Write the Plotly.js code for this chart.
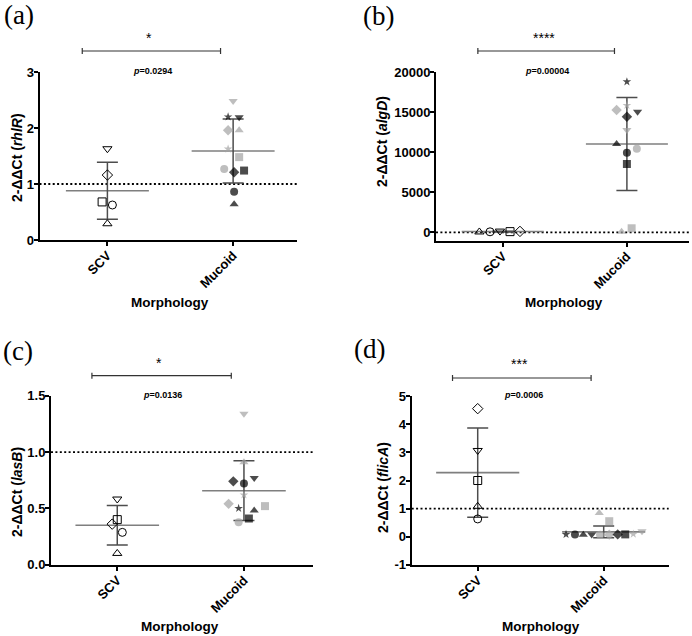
<!DOCTYPE html>
<html><head><meta charset="utf-8">
<script src="https://cdn.plot.ly/plotly-3.0.1.min.js"></script>
<style>html,body{margin:0;padding:0;background:#fff;} #chart{width:692px;height:636px;}</style>
</head><body><div id="chart"></div>
<script>
// ---------------- data ----------------
const groups = ['SCV', 'Mucoid'];
const panelLabels = ['(a)', '(b)', '(c)', '(d)'];
const genes = ['rhlR', 'algD', 'lasB', 'flicA'];
const sigStars = ['*', '****', '*', '***'];
const pValues = ['0.0294', '0.00004', '0.0136', '0.0006'];

// SCV strains order: triangle-up, circle, triangle-down, square, diamond
// Mucoid strains order: k-star, k-circle, k-tri-up, k-tri-down, g-circle, g-diamond,
//                       k-diamond, k-square, g-star, g-tri-down, g-tri-up, g-square
const rhlR_scv = [0.29, 0.625, 1.63, 0.68, 1.16];
const rhlR_muc = [2.20, 0.86, 0.64, 2.19, 1.27, 1.96, 1.21, 1.24, 1.625, 2.48, 1.96, 1.48];
const rhlR_mean = [0.88, 1.59];
const rhlR_sd = [0.51, 0.57];

const algD_scv = [40, 60, 150, 80, 110];
const algD_muc = [18790, 9930, 11020, 15050, 10430, 15260, 14420, 8520, 15840, 12760, 80, 500];
const algD_mean = [90, 11020];
const algD_sd = [40, 5800];

const lasB_scv = [0.10, 0.287, 0.583, 0.40, 0.36];
const lasB_muc = [0.50, 0.72, 0.48, 0.77, 0.376, 0.54, 0.74, 0.41, 0.62, 1.34, 0.91, 0.52];
const lasB_mean = [0.35, 0.657];
const lasB_sd = [0.175, 0.265];

const flicA_scv = [1.08, 0.63, 3.07, 2.0, 4.56];
const flicA_muc = [0.08, 0.08, 0.07, 0.08, 0.07, 0.07, 0.08, 0.08, 0.09, 0.19, 0.84, 0.55];
const flicA_mean = [2.28, 0.17];
const flicA_sd = [1.59, 0.21];

const refLevel = [1, 0, 1, 1];

// ---------------- styling / layout helpers ----------------
const G = '#a3a3a3';
const K = '#000000';
const scvSymbols = ['triangle-up-open', 'circle-open', 'triangle-down-open', 'square-open', 'diamond-open'];
const mucSymbols = ['star', 'circle', 'triangle-up', 'triangle-down', 'circle', 'diamond',
                    'diamond', 'square', 'star', 'triangle-down', 'triangle-up', 'square'];
const mucColors = [K, K, K, K, G, G, K, K, G, G, G, G];

// horizontal scatter offsets (in category units) used to separate overlapping points
const jitter = {
  a: {scv: [0, 0.04, 0, -0.042, 0], muc: [-0.04, 0.008, 0.008, 0.048, -0.071, -0.04, 0.008, 0.087, -0.04, 0, 0.048, 0.048]},
  b: {scv: [-0.188, -0.102, -0.022, 0.059, 0.139], muc: [0, 0, -0.083, 0.086, 0.08, -0.083, 0, 0, 0, 0, -0.043, 0.038]},
  c: {scv: [0, 0.04, 0, 0, -0.04], muc: [-0.042, 0, 0.081, 0.081, -0.042, -0.121, -0.084, 0.039, 0, 0, 0, 0.166]},
  d: {scv: [0, 0, 0, 0, 0], muc: [-0.299, -0.228, -0.162, -0.095, -0.029, 0.044, 0.111, 0.171, 0.235, 0.304, -0.035, 0.044]}
};

const W = 692, H = 636;
const px = v => v / W;
const py = v => 1 - v / H;

const boxes = [ // plot areas in pixels: left, right, top, bottom
  {l: 39.5, r: 297, t: 72, b: 240},
  {l: 436, r: 689, t: 72, b: 240.7},
  {l: 51, r: 313, t: 395.7, b: 564.7},
  {l: 411.7, r: 668.7, t: 396.3, b: 564.7}
];
const xRanges = [[-0.54, 1.508], [-0.537, 1.50], [-0.523, 1.545], [-0.524, 1.516]];
const yRanges = [[0, 3], [-1050, 20000], [0, 1.5], [-1, 5]];
const yTicks = [[0, 1, 2, 3], [0, 5000, 10000, 15000, 20000], [0, 0.5, 1.0, 1.5], [-1, 0, 1, 2, 3, 4, 5]];
const yTickText = [['0','1','2','3'], ['0','5000','10000','15000','20000'], ['0.0','0.5','1.0','1.5'], ['-1','0','1','2','3','4','5']];
const yTitlePos = [[17, 158], [382, 142], [17, 492], [383, 488]];
const xTitlePos = [[170, 303], [564, 303], [180, 626], [541, 626]];
const labelPos = [[2, 15], [361, 16], [1, 351], [352, 349]];
const bracketY = [51, 51, 375.7, 378];
const starY = [34, 34, 358.7, 359.7];
const pY = [71, 71, 394.7, 394.7];

const FONT = 'Liberation Sans, Arial, Helvetica, sans-serif';
const SERIF = 'Liberation Serif, Times New Roman, serif';

const sets = [
  {scv: rhlR_scv, muc: rhlR_muc, mean: rhlR_mean, sd: rhlR_sd, j: jitter.a},
  {scv: algD_scv, muc: algD_muc, mean: algD_mean, sd: algD_sd, j: jitter.b},
  {scv: lasB_scv, muc: lasB_muc, mean: lasB_mean, sd: lasB_sd, j: jitter.c},
  {scv: flicA_scv, muc: flicA_muc, mean: flicA_mean, sd: flicA_sd, j: jitter.d}
];

const traces = [];
const layout = {
  width: W, height: H, margin: {l: 0, r: 0, t: 0, b: 0},
  paper_bgcolor: '#fff', plot_bgcolor: '#fff', showlegend: false,
  shapes: [], annotations: []
};

sets.forEach((s, i) => {
  const n = i === 0 ? '' : String(i + 1);
  const xa = 'x' + n, ya = 'y' + n;
  const bx = boxes[i];
  layout['xaxis' + n] = {
    domain: [px(bx.l), px(bx.r)], range: xRanges[i], anchor: ya,
    tickmode: 'array', tickvals: [0, 1], ticktext: groups, tickangle: -45,
    showline: true, linewidth: 2, linecolor: '#000', ticks: 'outside', ticklen: 4, tickwidth: 2, tickcolor: '#000',
    ticklabelstandoff: -3,
    showgrid: false, zeroline: false, fixedrange: true,
    tickfont: {family: FONT, size: 13, color: '#000', weight: 'bold'}
  };
  layout['yaxis' + n] = {
    domain: [py(bx.b), py(bx.t)], range: yRanges[i], anchor: xa,
    tickmode: 'array', tickvals: yTicks[i], ticktext: yTickText[i],
    showline: true, linewidth: 2, linecolor: '#000', ticks: 'outside', ticklen: 4, tickwidth: 2, tickcolor: '#000',
    ticklabelstandoff: -3,
    showgrid: false, zeroline: false, fixedrange: true,
    tickfont: {family: FONT, size: 13, color: '#000', weight: 'bold'}
  };

  // reference dotted line
  layout.shapes.push({type: 'line', xref: xa + ' domain', yref: ya, x0: 0, x1: 1, y0: refLevel[i], y1: refLevel[i],
    line: {color: '#000', width: 1.8, dash: '2px,2.4px'}, layer: 'below'});

  // mean lines
  [0, 1].forEach(g => {
    traces.push({type: 'scatter', mode: 'lines', xaxis: xa, yaxis: ya, hoverinfo: 'skip',
      x: [g - 0.33, g + 0.33], y: [s.mean[g], s.mean[g]], line: {color: '#7f7f7f', width: 1.6}, cliponaxis: false});
  });
  // SD error bars
  traces.push({type: 'scatter', mode: 'markers', xaxis: xa, yaxis: ya, hoverinfo: 'skip',
    x: [0, 1], y: s.mean, marker: {size: 1, color: 'rgba(0,0,0,0)'}, cliponaxis: false,
    error_y: {type: 'data', array: s.sd, visible: true, width: 10.5, thickness: 1.5, color: '#4d4d4d'}});

  // SCV points (open markers)
  traces.push({type: 'scatter', mode: 'markers', xaxis: xa, yaxis: ya, cliponaxis: false,
    x: s.scv.map((v, k) => 0 + s.j.scv[k]), y: s.scv,
    marker: {symbol: scvSymbols, size: 8, color: '#000', line: {color: '#000', width: 1}}});
  // Mucoid points (filled black / grey markers)
  traces.push({type: 'scatter', mode: 'markers', xaxis: xa, yaxis: ya, cliponaxis: false,
    x: s.muc.map((v, k) => 1 + s.j.muc[k]), y: s.muc,
    marker: {symbol: mucSymbols, size: mucSymbols.map(m => m === 'star' ? 6.5 : 8), color: mucColors, line: {width: 0}}});

  // significance bracket
  const yb = bracketY[i];
  layout.shapes.push({type: 'line', xref: xa, yref: 'paper', x0: -0.2, x1: 0.9, y0: py(yb), y1: py(yb), line: {color: '#333', width: 1.2}});
  layout.shapes.push({type: 'line', xref: xa, yref: 'paper', x0: -0.2, x1: -0.2, y0: py(yb - 3), y1: py(yb + 3), line: {color: '#333', width: 1.2}});
  layout.shapes.push({type: 'line', xref: xa, yref: 'paper', x0: 0.9, x1: 0.9, y0: py(yb - 3), y1: py(yb + 3), line: {color: '#333', width: 1.2}});

  // stars
  layout.annotations.push({xref: xa, yref: 'paper', x: 0.33, y: py(starY[i] + 4), text: sigStars[i], showarrow: false,
    xanchor: 'center', yanchor: 'middle', font: {family: FONT, size: 14, color: '#000'}});
  // p value
  layout.annotations.push({xref: xa, yref: 'paper', x: 0.36, y: py(pY[i]), text: '<i>p</i>=' + pValues[i], showarrow: false,
    xanchor: 'center', yanchor: 'middle', font: {family: FONT, size: 9, color: '#000', weight: 'bold'}});
  // y title
  layout.annotations.push({xref: 'paper', yref: 'paper', x: px(yTitlePos[i][0]), y: py(yTitlePos[i][1]), textangle: -90,
    text: '2-ΔΔCt (<i>' + genes[i] + '</i>)', showarrow: false, xanchor: 'center', yanchor: 'middle',
    font: {family: FONT, size: 14, color: '#000', weight: 'bold'}});
  // x title
  layout.annotations.push({xref: 'paper', yref: 'paper', x: px(xTitlePos[i][0]), y: py(xTitlePos[i][1]),
    text: 'Morphology', showarrow: false, xanchor: 'center', yanchor: 'middle',
    font: {family: FONT, size: 13.5, color: '#000', weight: 'bold'}});
  // panel label
  layout.annotations.push({xref: 'paper', yref: 'paper', x: px(labelPos[i][0]), y: py(labelPos[i][1]),
    text: panelLabels[i], showarrow: false, xanchor: 'left', yanchor: 'middle',
    font: {family: SERIF, size: 27, color: '#000'}});
});

Plotly.newPlot('chart', traces, layout, {staticPlot: true, displayModeBar: false});
</script>
</body></html>
